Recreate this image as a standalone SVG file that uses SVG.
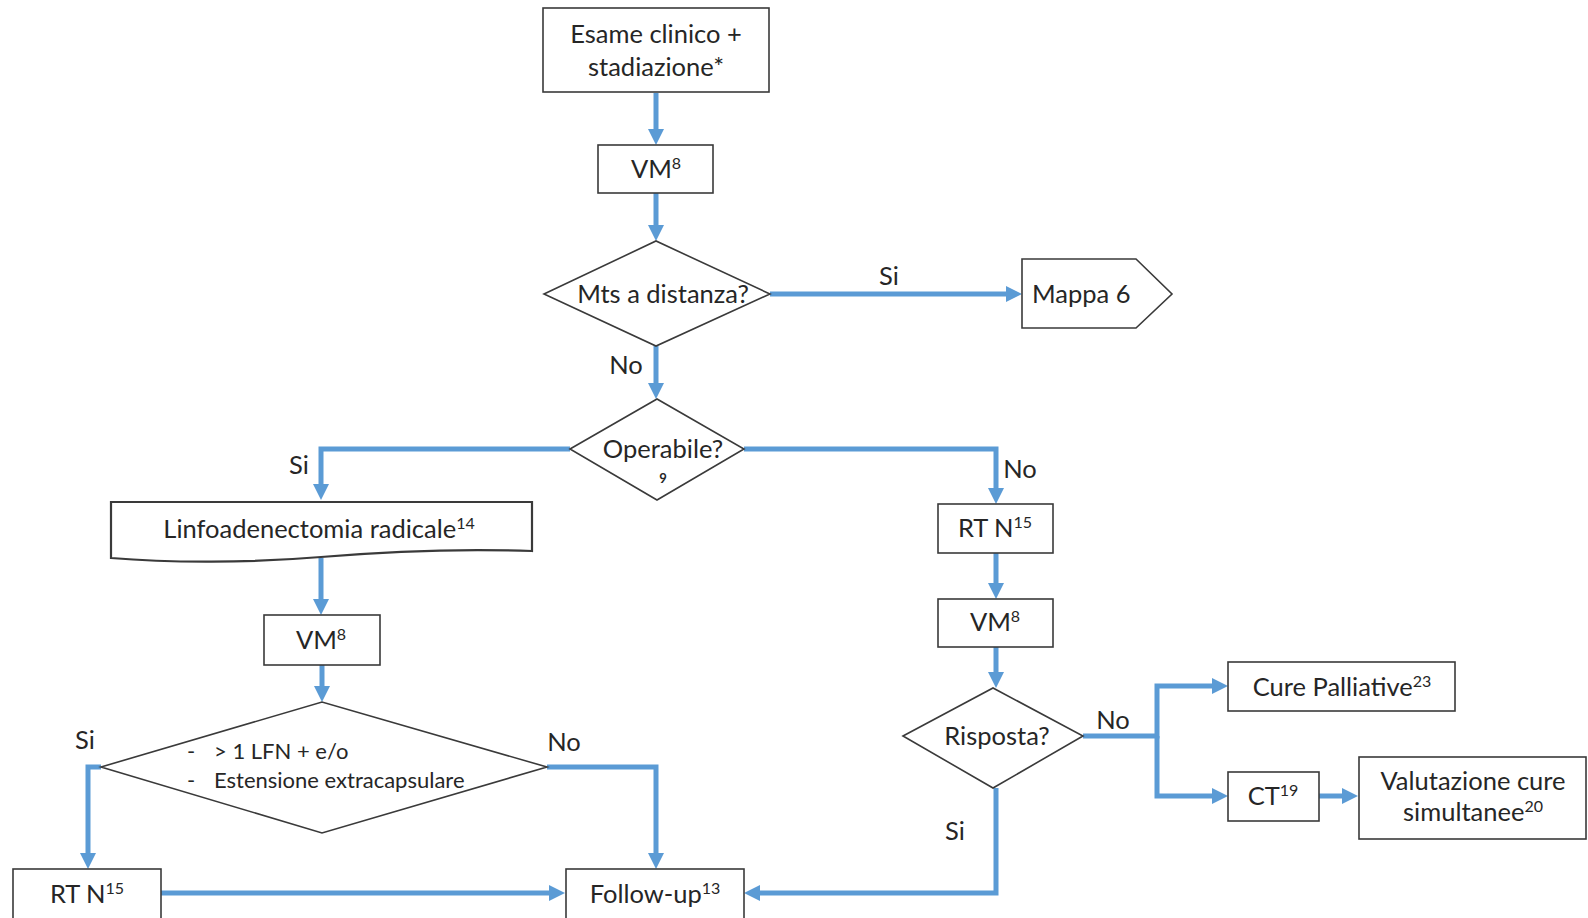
<svg xmlns="http://www.w3.org/2000/svg" width="1588" height="918" viewBox="0 0 1588 918">
  <style>
    .box { fill: #ffffff; stroke: #3a3a3a; stroke-width: 1.6; }
    .lbl { font-family: Lato, "Open Sans", "Liberation Sans", sans-serif; font-size: 25.5px; fill: #262626; text-anchor: middle; }
    .small { font-size: 22px; text-anchor: start; }
    .sup { font-size: 16px; }
    .conn { fill: none; stroke: #5b9bd5; stroke-width: 5; }
    .arr { marker-end: url(#head); }
  </style>
  <defs>
    <marker id="head" markerUnits="userSpaceOnUse" markerWidth="18" markerHeight="18" refX="6" refY="8" orient="auto">
      <path d="M0,0 L16,8 L0,16 Z" fill="#5b9bd5"/>
    </marker>
  </defs>
  <rect width="1588" height="918" fill="#ffffff"/>

  <!-- connectors -->
  <g id="connectors">
    <path class="conn arr" d="M656,93 V135"/>
    <path class="conn arr" d="M656,193 V231"/>
    <path class="conn arr" d="M770,294 H1012"/>
    <path class="conn arr" d="M656,346 V389"/>
    <path class="conn arr" d="M570,449 H321 V490"/>
    <path class="conn arr" d="M744,449 H996 V494"/>
    <path class="conn arr" d="M321,558 V605"/>
    <path class="conn arr" d="M322,665 V692"/>
    <path class="conn arr" d="M101,767 H88 V859"/>
    <path class="conn arr" d="M547,767 H656 V859"/>
    <path class="conn arr" d="M161,893 H555"/>
    <path class="conn arr" d="M996,553 V589"/>
    <path class="conn arr" d="M996,647 V678"/>
    <path class="conn arr" d="M996,788 V893 H754"/>
    <path class="conn arr" d="M1083,736 H1157 V686 H1218"/>
    <path class="conn arr" d="M1157,736 V796 H1218"/>
    <path class="conn arr" d="M1319,796 H1348"/>
  </g>

  <g id="esame">
    <rect class="box" x="543" y="8" width="226" height="84"/>
    <text class="lbl" x="656" y="43">Esame clinico +</text>
    <text class="lbl" x="656" y="76">stadiazione*</text>
  </g>

  <g id="vm-top">
    <rect class="box" x="598" y="145" width="115" height="48"/>
    <text class="lbl" x="656" y="178">VM<tspan class="sup" dy="-9">8</tspan></text>
  </g>

  <g id="mts">
    <polygon class="box" points="544,294 656,241 770,294 656,346"/>
    <text class="lbl" x="663" y="303">Mts a distanza?</text>
  </g>
  <text class="lbl" x="889" y="285">Si</text>
  <text class="lbl" x="626" y="374">No</text>

  <g id="mappa6">
    <polygon class="box" points="1022,259 1136,259 1172,294 1136,328 1022,328"/>
    <text class="lbl" x="1032" y="303" style="text-anchor:start">Mappa 6</text>
  </g>

  <g id="operabile">
    <polygon class="box" points="570,449 657,399 744,449 657,500"/>
    <text class="lbl" x="663" y="458">Operabile?</text>
    <text class="lbl" x="663" y="483" style="font-size:13px;font-weight:bold">9</text>
  </g>
  <text class="lbl" x="299" y="474">Si</text>
  <text class="lbl" x="1020" y="478">No</text>

  <g id="linfoadenectomia">
    <path class="box" d="M111,502 H532 V551 C450,548 380,552 321,557 C250,563 170,563 111,558 Z" style="stroke-width:2.2"/>
    <text class="lbl" x="319" y="538">Linfoadenectomia radicale<tspan class="sup" dy="-9">14</tspan></text>
  </g>

  <g id="vm-left">
    <rect class="box" x="264" y="615" width="116" height="50"/>
    <text class="lbl" x="321" y="649">VM<tspan class="sup" dy="-9">8</tspan></text>
  </g>

  <g id="lfn">
    <polygon class="box" points="101,767 322,702 547,767 322,833"/>
    <text class="lbl small" x="187" y="759">-</text>
    <text class="lbl small" x="214" y="759">&gt; 1 LFN + e/o</text>
    <text class="lbl small" x="187" y="788">-</text>
    <text class="lbl small" x="214" y="788">Estensione extracapsulare</text>
  </g>
  <text class="lbl" x="85" y="749">Si</text>
  <text class="lbl" x="564" y="751">No</text>

  <g id="rtn-left">
    <rect class="box" x="13" y="869" width="148" height="60"/>
    <text class="lbl" x="87" y="903">RT N<tspan class="sup" dy="-9">15</tspan></text>
  </g>

  <g id="followup">
    <rect class="box" x="566" y="869" width="178" height="60"/>
    <text class="lbl" x="655" y="903">Follow-up<tspan class="sup" dy="-9">13</tspan></text>
  </g>

  <g id="rtn-right">
    <rect class="box" x="938" y="504" width="115" height="49"/>
    <text class="lbl" x="995" y="537">RT N<tspan class="sup" dy="-9">15</tspan></text>
  </g>

  <g id="vm-right">
    <rect class="box" x="938" y="599" width="115" height="48"/>
    <text class="lbl" x="995" y="631">VM<tspan class="sup" dy="-9">8</tspan></text>
  </g>

  <g id="risposta">
    <polygon class="box" points="903,736 993,688 1083,736 993,788"/>
    <text class="lbl" x="997" y="745">Risposta?</text>
  </g>
  <text class="lbl" x="1113" y="729">No</text>
  <text class="lbl" x="955" y="840">Si</text>

  <g id="cure-palliative">
    <rect class="box" x="1228" y="662" width="227" height="49"/>
    <text class="lbl" x="1342" y="696">Cure Palliative<tspan class="sup" dy="-9">23</tspan></text>
  </g>

  <g id="ct">
    <rect class="box" x="1228" y="772" width="91" height="49"/>
    <text class="lbl" x="1273" y="805">CT<tspan class="sup" dy="-9">19</tspan></text>
  </g>

  <g id="valutazione">
    <rect class="box" x="1359" y="757" width="227" height="82"/>
    <text class="lbl" x="1473" y="790">Valutazione cure</text>
    <text class="lbl" x="1473" y="821">simultanee<tspan class="sup" dy="-9">20</tspan></text>
  </g>
</svg>
